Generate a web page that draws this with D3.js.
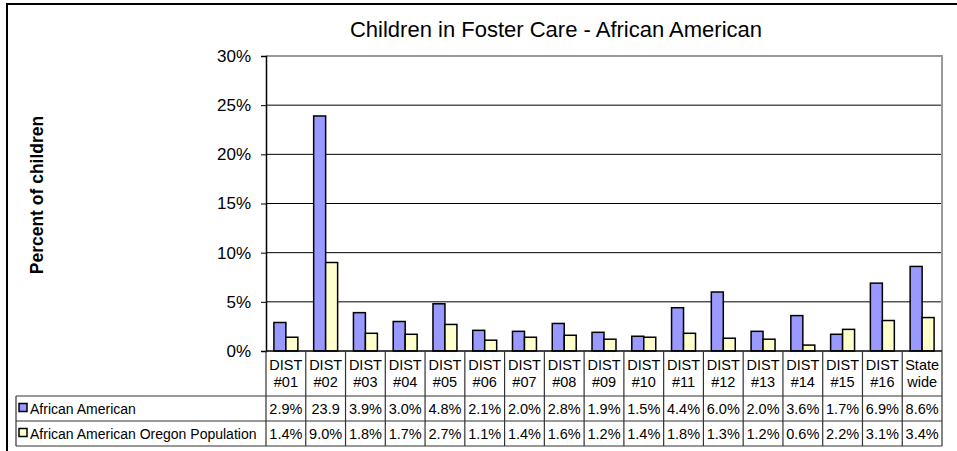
<!DOCTYPE html>
<html lang="en">
<head>
<meta charset="UTF-8">
<title>Children in Foster Care - African American</title>
<script src="https://d3js.org/d3.v7.min.js"></script>
<style>
  body { margin: 0; background: #fff; }
  svg text { font-family: "Liberation Sans", Arial, sans-serif; }
</style>
</head>
<body>
<svg id="chart" width="957" height="451"></svg>
<script>
  // data
  var catTop = ["DIST", "DIST", "DIST", "DIST", "DIST", "DIST", "DIST", "DIST", "DIST",
    "DIST", "DIST", "DIST", "DIST", "DIST", "DIST", "DIST", "State"];
  var catBottom = ["#01", "#02", "#03", "#04", "#05", "#06", "#07", "#08", "#09",
    "#10", "#11", "#12", "#13", "#14", "#15", "#16", "wide"];
  var seriesNames = ["African American", "African American Oregon Population"];
  var africanAmerican = [2.9, 23.9, 3.9, 3.0, 4.8, 2.1, 2.0, 2.8, 1.9, 1.5, 4.4, 6.0, 2.0, 3.6, 1.7, 6.9, 8.6];
  var oregonPopulation = [1.4, 9.0, 1.8, 1.7, 2.7, 1.1, 1.4, 1.6, 1.2, 1.4, 1.8, 1.3, 1.2, 0.6, 2.2, 3.1, 3.4];
  var africanAmericanLabels = ["2.9%", "23.9", "3.9%", "3.0%", "4.8%", "2.1%", "2.0%", "2.8%", "1.9%",
    "1.5%", "4.4%", "6.0%", "2.0%", "3.6%", "1.7%", "6.9%", "8.6%"];
  var yTicks = [0, 5, 10, 15, 20, 25, 30];
  var colors = ["#9999ff", "#ffffcc"];

  var svg = d3.select("#chart");
  var cats = catTop.map(function (d, i) { return i; });
  var seriesValues = [africanAmerican, oregonPopulation];
  var rowLabels = [africanAmericanLabels, oregonPopulation.map(function (v) { return v.toFixed(1) + "%"; })];

  // plot area (window.top is read-only, so no "top" here)
  var plotLeft = 266, plotRight = 942, plotTop = 56, plotBottom = 351;
  var tableLeft = 16, headerBottom = 396, rowH = 25;

  var x = d3.scaleBand().domain(cats).range([plotLeft, plotRight]).padding(0);
  var xs = d3.scaleBand().domain([0, 1]).range([0, x.bandwidth()]).paddingInner(0).paddingOuter(0.66);
  var y = d3.scaleLinear().domain([0, 30]).range([plotBottom, plotTop]);

  // outer chart border
  svg.append("rect")
    .attr("x", 7).attr("y", 4).attr("width", 1000).attr("height", 500)
    .attr("fill", "none").attr("stroke", "#000").attr("stroke-width", 2);

  // title
  svg.append("text")
    .attr("x", 556).attr("y", 37)
    .attr("text-anchor", "middle")
    .style("font-size", "22px")
    .text("Children in Foster Care - African American");

  // y axis title
  svg.append("text")
    .attr("transform", "translate(43," + 195 + ") rotate(-90)")
    .attr("text-anchor", "middle")
    .style("font-size", "17.5px")
    .style("font-weight", "bold")
    .text("Percent of children");

  // gridlines
  svg.append("g")
    .selectAll("line")
    .data(yTicks.filter(function (d) { return d > 0 && d < 30; }))
    .enter()
    .append("line")
    .attr("x1", plotLeft).attr("x2", plotRight)
    .attr("y1", function (d) { return y(d); })
    .attr("y2", function (d) { return y(d); })
    .attr("stroke", "#000").attr("stroke-width", 1);

  // plot area frame (top and right, gray)
  svg.append("path")
    .attr("d", "M" + plotLeft + "," + plotTop + "H" + plotRight + "V" + plotBottom)
    .attr("fill", "none").attr("stroke", "#999").attr("stroke-width", 2);

  // y axis
  var yAxis = d3.axisLeft(y)
    .tickValues(yTicks)
    .tickSize(5)
    .tickFormat(function (d) { return d + "%"; });
  var gy = svg.append("g")
    .attr("transform", "translate(" + plotLeft + ",0)")
    .call(yAxis);
  gy.select(".domain").attr("stroke", "#000").attr("stroke-width", 1.5);
  gy.selectAll(".tick line").attr("stroke", "#000");
  gy.selectAll(".tick text")
    .attr("x", -15)
    .style("font-size", "17px")
    .style("font-family", "'Liberation Sans', Arial, sans-serif")
    .attr("fill", "#000");

  // bars
  seriesValues.forEach(function (vals, s) {
    svg.append("g")
      .selectAll("rect")
      .data(vals)
      .enter()
      .append("rect")
      .attr("x", function (d, i) { return x(i) + xs(s); })
      .attr("y", function (d) { return y(d); })
      .attr("width", xs.bandwidth())
      .attr("height", function (d) { return plotBottom - y(d); })
      .attr("fill", colors[s])
      .attr("stroke", "#000")
      .attr("stroke-width", 1.5);
  });

  // x axis line
  svg.append("line")
    .attr("x1", plotLeft).attr("x2", plotRight)
    .attr("y1", plotBottom).attr("y2", plotBottom)
    .attr("stroke", "#000").attr("stroke-width", 1.5);

  // data table
  var tableBottom = headerBottom + rowH * 2;
  var grid = svg.append("g").attr("stroke", "#333").attr("stroke-width", 1.2);
  cats.concat([cats.length]).forEach(function (i) {
    var xx = i < cats.length ? x(i) : plotRight;
    grid.append("line")
      .attr("x1", xx).attr("x2", xx)
      .attr("y1", plotBottom).attr("y2", tableBottom);
  });
  [headerBottom, headerBottom + rowH, tableBottom].forEach(function (yy) {
    grid.append("line")
      .attr("x1", tableLeft).attr("x2", plotRight)
      .attr("y1", yy).attr("y2", yy);
  });
  grid.append("line")
    .attr("x1", tableLeft).attr("x2", tableLeft)
    .attr("y1", headerBottom).attr("y2", tableBottom);

  // category labels
  var catG = svg.append("g").style("font-size", "14.5px").attr("text-anchor", "middle");
  catG.selectAll("text.top")
    .data(catTop)
    .enter()
    .append("text")
    .attr("class", "top")
    .attr("x", function (d, i) { return x(i) + x.bandwidth() / 2; })
    .attr("y", 370)
    .text(function (d) { return d; });
  catG.selectAll("text.bottom")
    .data(catBottom)
    .enter()
    .append("text")
    .attr("class", "bottom")
    .attr("x", function (d, i) { return x(i) + x.bandwidth() / 2; })
    .attr("y", 387)
    .text(function (d) { return d; });

  // table rows
  rowLabels.forEach(function (labels, s) {
    var rowY = headerBottom + rowH * s + rowH / 2 + 5;
    svg.append("rect")
      .attr("x", 19).attr("y", rowY - 10)
      .attr("width", 8).attr("height", 8)
      .attr("fill", colors[s])
      .attr("stroke", "#000").attr("stroke-width", 1.5);
    svg.append("text")
      .attr("x", 30).attr("y", rowY)
      .style("font-size", "14px")
      .text(seriesNames[s]);
    svg.append("g")
      .selectAll("text")
      .data(labels)
      .enter()
      .append("text")
      .attr("x", function (d, i) { return x(i) + x.bandwidth() / 2; })
      .attr("y", rowY)
      .attr("text-anchor", "middle")
      .style("font-size", "14.5px")
      .text(function (d) { return d; });
  });
</script>
</body>
</html>
